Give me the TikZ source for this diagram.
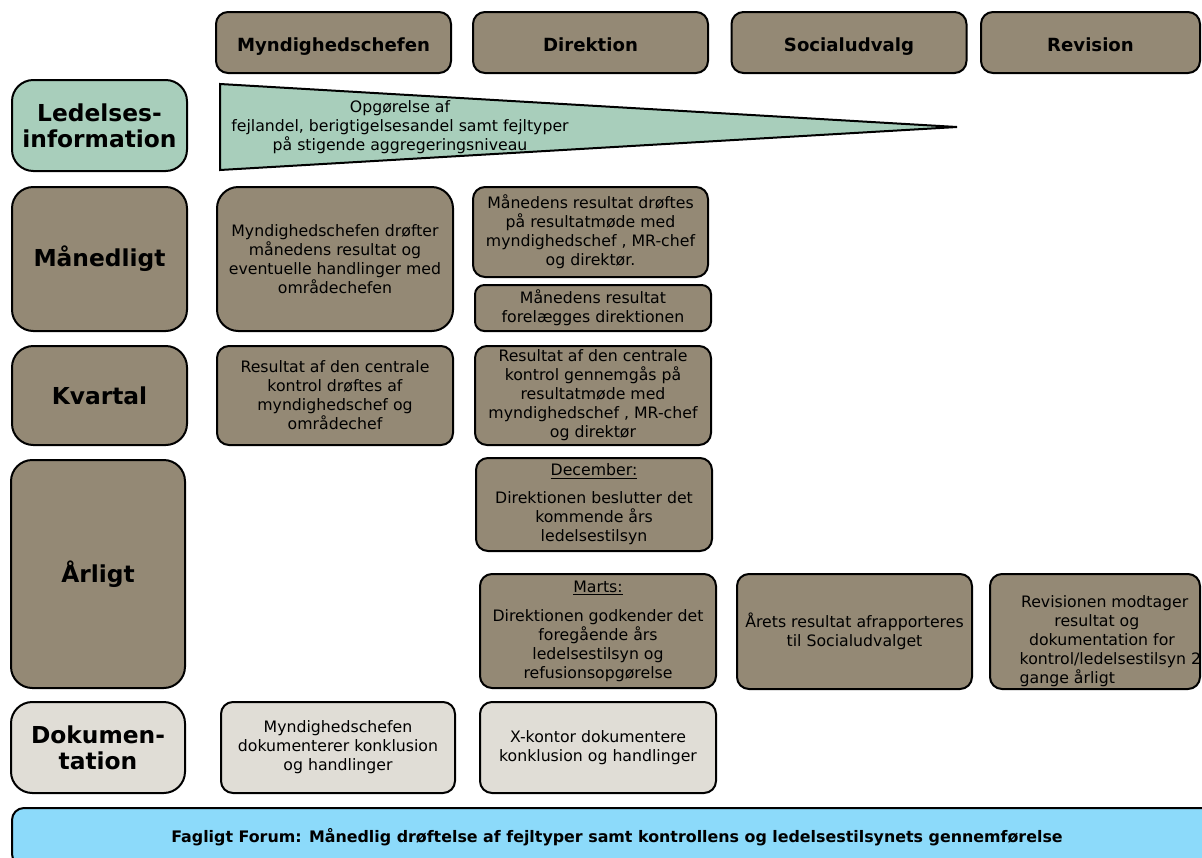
\documentclass[tikz,border=0pt]{standalone}
\usepackage{fontspec}
\setmainfont{DejaVu Sans}
\usepackage{tikz}

\definecolor{boxbrown}{RGB}{148,137,117}
\definecolor{infogreen}{RGB}{168,206,187}
\definecolor{docgrey}{RGB}{224,221,214}
\definecolor{forumblue}{RGB}{140,218,250}

\begin{document}
\begin{tikzpicture}[x=0.75pt,y=-0.75pt]

\tikzset{cell/.style 2 args={
    draw, line width=1.5pt, rounded corners=9pt, fill=boxbrown,
    minimum width=#1, minimum height=#2, inner sep=0pt, align=center,
    font=\fontsize{11.8}{14.25}\selectfont
  },
  head/.style={cell={176.25pt}{45.75pt}, text height=12.8pt, text depth=0pt,
    font=\fontsize{13.6}{16}\selectfont\bfseries},
  rowlabel/.style 2 args={cell={#1}{#2}, rounded corners=16pt,
    font=\fontsize{17.5}{19.5}\selectfont\bfseries},
  doc/.style 2 args={cell={#1}{#2}, fill=docgrey}
}

\useasboundingbox (0,0) rectangle (1202,857);

% column heads
\node[head] (myn) at (333.5,42.5) {Myndighedschefen};
\node[head] (dir) at (590.5,42.5) {Direktion};
\node[head] (soc) at (849,42.5) {Socialudvalg};
\node[head, minimum width=164.25pt] (rev) at (1090.5,42.5) {Revision};

% row labels
\node[rowlabel={131.25pt}{68.25pt}, fill=infogreen] (info) at (99.5,125.5) {Ledelses-\\information};
\node[rowlabel={131.25pt}{108pt}] (maaned) at (99.5,259) {Månedligt};
\node[rowlabel={131.25pt}{74.25pt}] (kvartal) at (99.5,395.5) {Kvartal};
\node[rowlabel={130.5pt}{171pt}] (aar) at (98,574) {Årligt};
\node[rowlabel={130.5pt}{68.25pt}, fill=docgrey] (dok) at (98,747.5) {Dokumen-\\tation};

% wedge
\draw[line width=1.5pt, fill=infogreen, line join=miter] (220,84) -- (957,127) -- (220,170) -- cycle;
\node[align=center, font=\fontsize{11.8}{14.25}\selectfont] (opg) at (400,127)
  {Opgørelse af\\fejlandel, berigtigelsesandel samt fejltyper\\på stigende aggregeringsniveau};

% monthly
\node[cell={177pt}{108pt}, rounded corners=16pt] (maaned1) at (335,259)
  {Myndighedschefen drøfter\\månedens resultat og\\eventuelle handlinger med\\områdechefen};
\node[cell={176.25pt}{67.5pt}] (maaned2) at (590.5,232)
  {Månedens resultat drøftes\\på resultatmøde med\\myndighedschef , MR-chef\\og direktør.};
\node[cell={177pt}{34.5pt}, rounded corners=7pt] (maaned3) at (593,308)
  {Månedens resultat\\forelægges direktionen};

% quarterly
\node[cell={177pt}{74.25pt}] (kvartal1) at (335,395.5)
  {Resultat af den centrale\\kontrol drøftes af\\myndighedschef og\\områdechef};
\node[cell={177pt}{74.25pt}] (kvartal2) at (593,395.5)
  {Resultat af den centrale\\kontrol gennemgås på\\resultatmøde med\\myndighedschef , MR-chef\\og direktør};

% yearly
\node[cell={177pt}{69.75pt}] (dec) at (594,504.5)
  {\underline{December:}\\[6.75pt]Direktionen beslutter det\\kommende års\\ledelsestilsyn};
\node[cell={177pt}{85.5pt}] (marts) at (598,631)
  {\underline{Marts:}\\[7.5pt]Direktionen godkender det\\foregående års\\ledelsestilsyn og\\refusionsopgørelse};
\node[cell={176.25pt}{86.25pt}] (aarsoc) at (854.5,631.5)
  {Årets resultat afrapporteres\\til Socialudvalget};
\node[cell={157.5pt}{86.25pt}] (aarrev) at (1095,631.5) {};
\node[align=left, font=\fontsize{11.8}{14.25}\selectfont, anchor=west] (revtxt) at (1015,641)
  {\hspace*{1pt}Revisionen modtager\\\hspace*{26pt}resultat og\\\hspace*{7pt}dokumentation for\\kontrol/ledelsestilsyn 2\\gange årligt};

% documentation
\node[doc={175.5pt}{68.25pt}] (dok1) at (338,747.5)
  {Myndighedschefen\\dokumenterer konklusion\\og handlinger};
\node[doc={177pt}{68.25pt}] (dok2) at (598,747.5)
  {X-kontor dokumentere\\konklusion og handlinger};

% forum bar
\node[cell={907.5pt}{43.5pt}, fill=forumblue, font=\fontsize{11.9}{14}\selectfont\bfseries] (forum) at (617,837)
  {Fagligt Forum: Månedlig drøftelse af fejltyper samt kontrollens og ledelsestilsynets gennemførelse};

\end{tikzpicture}
\end{document}
